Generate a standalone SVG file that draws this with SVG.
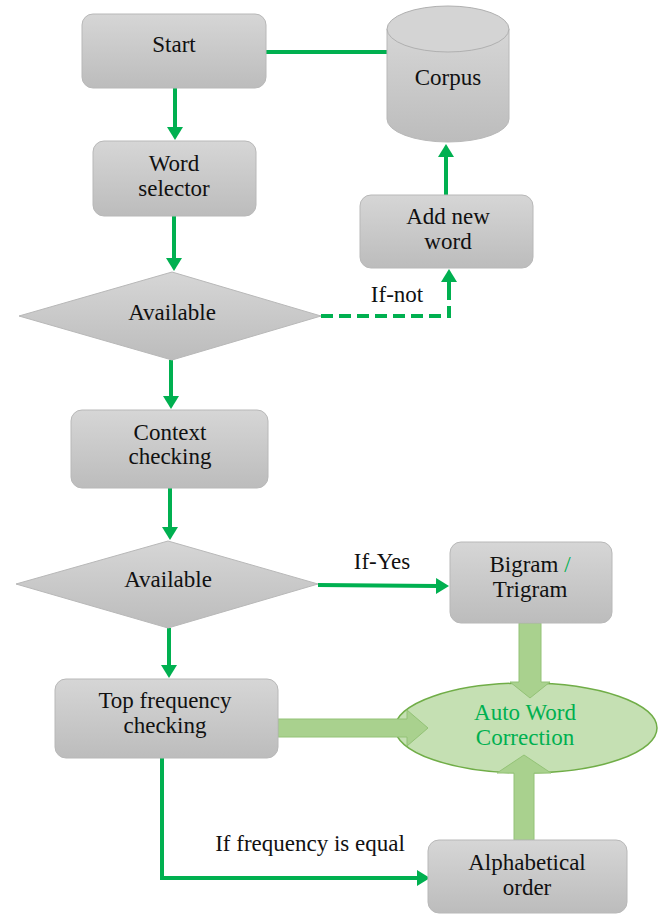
<svg xmlns="http://www.w3.org/2000/svg" width="665" height="914" viewBox="0 0 665 914">
<defs>
<linearGradient id="gray" x1="0" y1="0" x2="0" y2="1">
<stop offset="0" stop-color="#d6d6d6"/>
<stop offset="1" stop-color="#bcbcbc"/>
</linearGradient>
<marker id="ah" viewBox="0 0 13 16" refX="1" refY="8" markerWidth="13" markerHeight="16" markerUnits="userSpaceOnUse" orient="auto">
<path d="M0,0 L13,8 L0,16 z" fill="#00b050"/>
</marker>
<style>
.box{fill:url(#gray);stroke:#b8b8b8;stroke-width:1}
.t{font-size:23px;fill:#111;text-anchor:middle}
.g{fill:#00b050}
.ln{fill:none;stroke:#00b050;stroke-width:4}
.dash{stroke-dasharray:12 6}
.blk{fill:#a9d18e;stroke:#93c276;stroke-width:1}
.lbl{fill:#fff}
</style>
</defs>
<rect width="665" height="914" fill="#fff"/>
<g font-family="'Liberation Serif', 'Times New Roman', 'DejaVu Serif', serif">
<g id="connectors">
<line class="ln" x1="266" y1="52" x2="387" y2="52"/>
<line class="ln" x1="175" y1="88" x2="175" y2="128" marker-end="url(#ah)"/>
<line class="ln" x1="174" y1="216" x2="174" y2="259" marker-end="url(#ah)"/>
<polyline class="ln dash" points="321,316 449,316 449,296"/>
<line class="ln" x1="449" y1="298" x2="449" y2="281" marker-end="url(#ah)"/>
<line class="ln" x1="446" y1="195" x2="446" y2="156" marker-end="url(#ah)"/>
<line class="ln" x1="171" y1="360" x2="171" y2="397" marker-end="url(#ah)"/>
<line class="ln" x1="170" y1="488" x2="170" y2="528" marker-end="url(#ah)"/>
<line class="ln" x1="318" y1="585" x2="437" y2="586" marker-end="url(#ah)"/>
<line class="ln" x1="169" y1="628" x2="169" y2="666" marker-end="url(#ah)"/>
<polyline class="ln" points="162,758 162,878 418,878" marker-end="url(#ah)"/>
<rect class="lbl" x="361" y="281" width="74" height="27"/>
<text class="t" x="397" y="302">If-not</text>
<rect class="lbl" x="335" y="550" width="97" height="26"/>
<text class="t" x="382" y="569">If-Yes</text>
<rect class="lbl" x="188" y="831" width="245" height="33"/>
<text class="t" x="310" y="851">If frequency is equal</text>
</g>

<g id="auto-word-correction">
<ellipse cx="526" cy="728" rx="131" ry="45" fill="#c5e0b3" stroke="#70ad47" stroke-width="1.5"/>
<text class="t g" x="525" y="720">Auto Word</text>
<text class="t g" x="525" y="745">Correction</text>
</g>

<g id="block-arrows">
<polygon class="blk" points="278,719 407,719 407,710 428,728 407,746 407,737 278,737"/>
<polygon class="blk" points="519,623 541,623 541,682 550,682 530,698 510,682 519,682"/>
<polygon class="blk" points="514,840 534,840 534,773 551,773 524,755 497,773 514,773"/>
</g>

<g id="start">
<rect class="box" x="82" y="14" width="184" height="74" rx="11"/>
<text class="t" x="174" y="52">Start</text>
</g>

<g id="corpus">
<path d="M387,29 L387,119 A61,23 0 0 0 509,119 L509,29 Z" fill="url(#gray)" stroke="#b8b8b8"/>
<ellipse cx="448" cy="29" rx="61" ry="23" fill="#d4d4d4" stroke="#b0b0b0"/>
<text class="t" x="448" y="85">Corpus</text>
</g>

<g id="word-selector">
<rect class="box" x="93" y="141" width="163" height="75" rx="11"/>
<text class="t" x="174" y="171">Word</text>
<text class="t" x="174" y="196">selector</text>
</g>

<g id="add-new-word">
<rect class="box" x="360" y="195" width="173" height="73" rx="11"/>
<text class="t" x="448" y="224">Add new</text>
<text class="t" x="448" y="249">word</text>
</g>

<g id="available-1">
<polygon points="172,272 321,316 172,360 19,316" fill="url(#gray)" stroke="#b8b8b8"/>
<text class="t" x="172" y="320">Available</text>
</g>

<g id="context-checking">
<rect class="box" x="71" y="410" width="197" height="78" rx="11"/>
<text class="t" x="170" y="440">Context</text>
<text class="t" x="170" y="464">checking</text>
</g>

<g id="available-2">
<polygon points="168,541 318,584 168,628 16,584" fill="url(#gray)" stroke="#b8b8b8"/>
<text class="t" x="168" y="587">Available</text>
</g>

<g id="bigram-trigram">
<rect class="box" x="450" y="542" width="162" height="81" rx="11"/>
<text class="t" x="530" y="572">Bigram <tspan class="g">/</tspan></text>
<text class="t" x="530" y="597">Trigram</text>
</g>

<g id="top-frequency-checking">
<rect class="box" x="55" y="679" width="223" height="79" rx="11"/>
<text class="t" x="165" y="708">Top frequency</text>
<text class="t" x="165" y="733">checking</text>
</g>

<g id="alphabetical-order">
<rect class="box" x="428" y="840" width="199" height="73" rx="11"/>
<text class="t" x="527" y="870">Alphabetical</text>
<text class="t" x="527" y="895">order</text>
</g>
</g>
</svg>
